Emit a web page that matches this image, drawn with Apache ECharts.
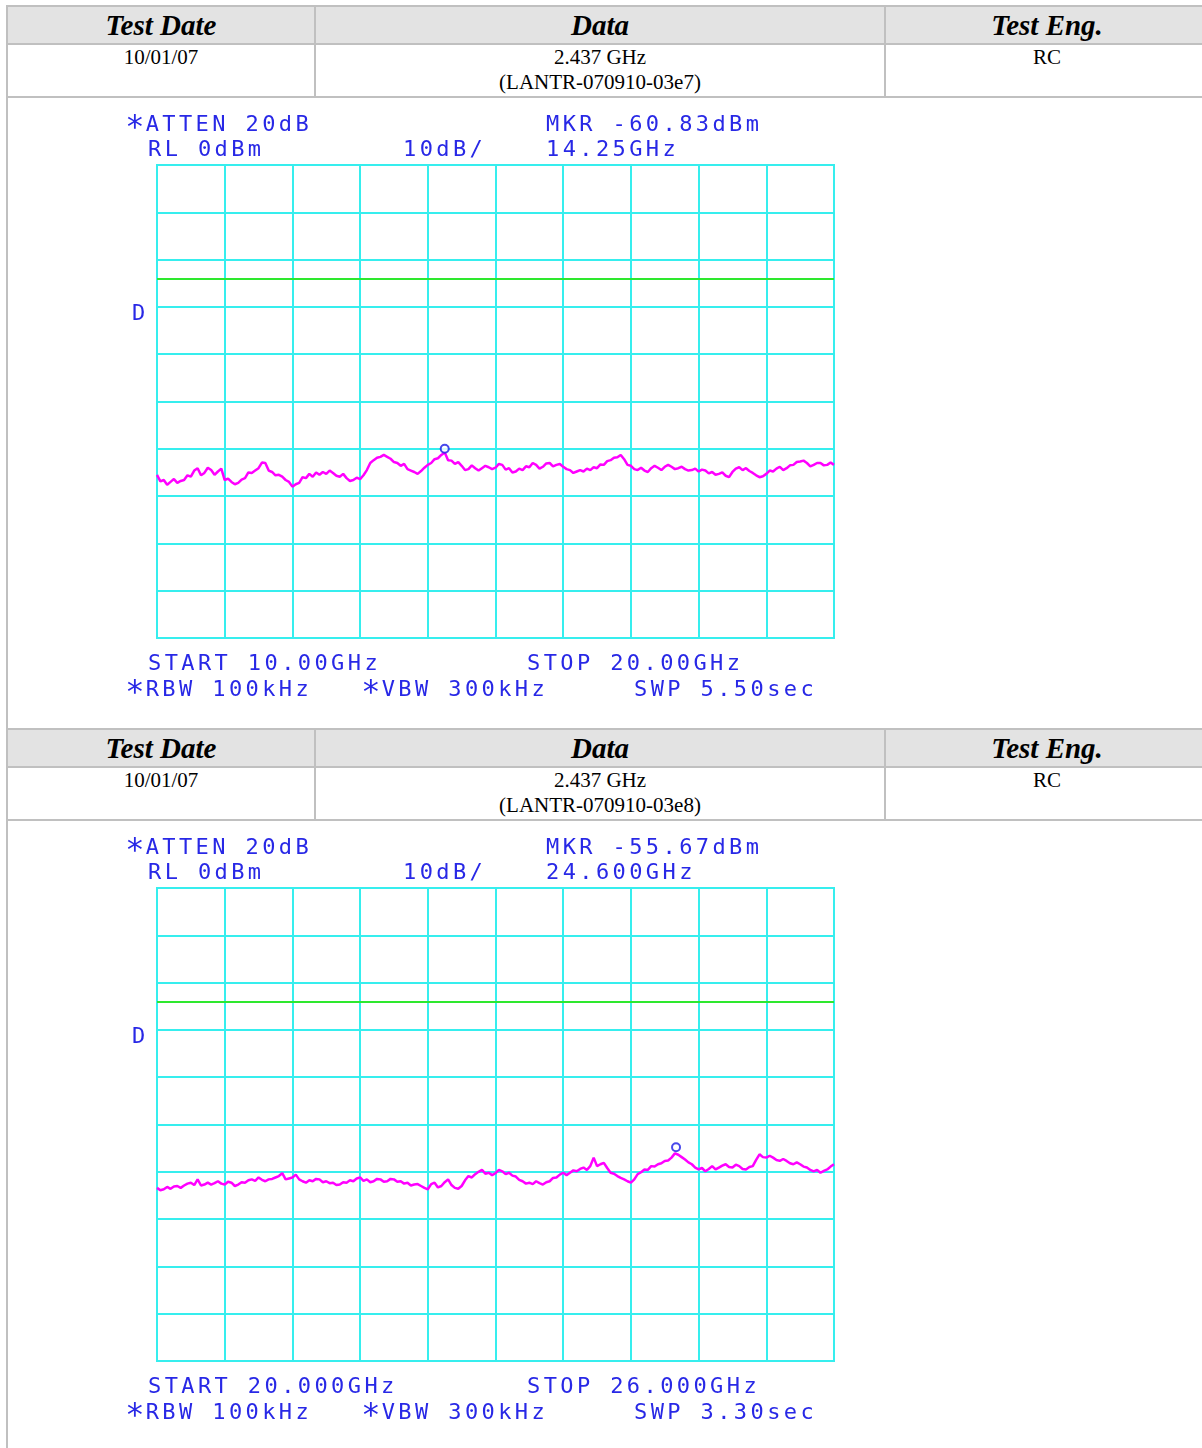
<!DOCTYPE html>
<html>
<head>
<meta charset="utf-8">
<script src="https://cdn.jsdelivr.net/npm/echarts@6/dist/echarts.min.js"></script>
<style>
html,body{margin:0;padding:0;background:#fff;}
body{width:1202px;height:1448px;overflow:hidden;position:relative;}
.ln{position:absolute;background:#c0c0c0;}
.hdr{position:absolute;background:#e3e3e3;}
.ht{position:absolute;font:italic bold 29px 'Liberation Serif';text-align:center;color:#000;line-height:36px;width:300px;}
.dt{position:absolute;font:21px 'Liberation Serif';text-align:center;line-height:25px;color:#000;width:400px;}
.it{position:absolute;font:22px 'DejaVu Sans Mono';letter-spacing:3.4px;color:#2828e6;line-height:22px;white-space:pre;z-index:5;}
.ast{display:inline-block;transform:translateY(3px) scale(1.45);}
.ch{position:absolute;left:0;width:1202px;z-index:2;}
</style>
</head>
<body>
<script>
// ---- table data ----
const headerLabels = ['Test Date', 'Data', 'Test Eng.'];
const testDates = ['10/01/07', '10/01/07'];
const dataFreq = ['2.437 GHz', '2.437 GHz'];
const dataIds = ['(LANTR-070910-03e7)', '(LANTR-070910-03e8)'];
const testEng = ['RC', 'RC'];

// ---- analyzer settings / annotations ----
const attenText = ['*ATTEN 20dB', '*ATTEN 20dB'];
const refText = ['RL 0dBm', 'RL 0dBm'];
const scaleText = ['10dB/', '10dB/'];
const mkrText = ['MKR -60.83dBm', 'MKR -55.67dBm'];
const mkrFreqText = ['14.25GHz', '24.600GHz'];
const startText = ['START 10.00GHz', 'START 20.000GHz'];
const stopText = ['STOP 20.00GHz', 'STOP 26.000GHz'];
const rbwText = ['*RBW 100kHz', '*RBW 100kHz'];
const vbwText = ['*VBW 300kHz', '*VBW 300kHz'];
const swpText = ['SWP 5.50sec', 'SWP 3.30sec'];
const detText = ['D', 'D'];

const sweepStart = [10, 20];      // GHz
const sweepStop = [20, 26];       // GHz
const refLevel = [0, 0];          // dBm
const dbPerDiv = [10, 10];
const displayLine = [-24, -24];   // dBm
const markerFreq = [14.25, 24.6]; // GHz
const markerLevel = [-60.83, -55.67]; // dBm

// ---- traces (dBm), evenly swept from start to stop ----
const trace1 = [
-65.5,-66.9,-66.6,-67.6,-67.0,-66.4,-67.2,-66.8,-66.6,-65.6,
-65.9,-64.6,-64.1,-65.6,-65.1,-64.0,-64.5,-65.5,-64.8,-64.2,
-66.6,-66.3,-67.0,-67.5,-67.2,-66.5,-66.2,-65.0,-65.1,-64.6,
-64.1,-62.9,-63.0,-64.6,-64.9,-65.6,-65.5,-65.9,-66.6,-67.0,
-68.0,-67.5,-67.2,-66.0,-66.2,-65.3,-65.9,-65.0,-65.5,-64.9,
-65.3,-64.6,-65.1,-65.7,-65.9,-65.3,-66.2,-66.8,-66.6,-66.1,
-66.4,-65.6,-64.5,-63.0,-62.4,-61.9,-61.7,-61.3,-61.7,-62.1,
-62.8,-63.0,-63.6,-63.2,-64.3,-64.6,-64.9,-65.3,-64.7,-64.0,
-63.4,-63.0,-62.2,-62.0,-61.3,-60.8,-62.4,-62.5,-63.2,-62.8,
-63.6,-64.5,-64.3,-63.5,-64.1,-64.6,-64.1,-63.6,-63.9,-64.3,
-64.0,-63.2,-63.4,-64.4,-64.1,-65.0,-64.8,-64.2,-64.5,-63.7,
-63.9,-63.0,-63.4,-64.2,-63.8,-63.1,-63.0,-63.7,-63.4,-63.2,
-63.8,-64.3,-64.5,-65.1,-64.8,-64.5,-64.8,-64.2,-64.5,-63.9,
-64.1,-63.3,-63.4,-62.6,-62.4,-61.9,-61.8,-61.3,-62.2,-63.4,
-63.6,-64.3,-64.5,-64.0,-64.6,-64.9,-64.1,-63.6,-64.0,-64.5,
-63.8,-63.4,-63.8,-64.3,-64.1,-63.8,-64.3,-64.6,-64.5,-64.2,
-64.8,-64.4,-64.6,-65.2,-64.9,-65.5,-65.3,-65.0,-65.7,-66.0,
-64.9,-64.2,-63.9,-64.5,-64.1,-64.7,-65.1,-65.6,-66.0,-65.8,
-65.3,-64.6,-64.8,-64.2,-63.8,-64.5,-64.1,-63.5,-63.4,-62.8,
-62.7,-62.5,-63.0,-63.7,-63.4,-63.0,-63.0,-63.5,-63.4,-62.9,
-63.4
];
const trace2 = [
-63.4,-63.9,-63.7,-63.2,-63.6,-63.1,-63.0,-63.4,-62.9,-62.5,
-62.3,-62.8,-61.6,-62.9,-62.7,-62.3,-62.7,-62.4,-62.0,-62.5,
-62.7,-62.1,-62.3,-63.0,-62.7,-62.2,-62.3,-61.8,-61.6,-61.9,
-61.2,-61.7,-62.0,-61.6,-61.5,-61.2,-60.9,-60.3,-61.6,-61.4,
-61.2,-60.6,-61.6,-62.0,-62.3,-61.8,-62.0,-61.5,-61.6,-62.2,
-62.0,-62.4,-62.3,-62.8,-62.7,-62.2,-62.3,-61.8,-62.0,-61.4,
-61.2,-61.9,-61.6,-62.2,-62.0,-61.5,-61.6,-62.1,-62.0,-61.5,
-61.6,-62.1,-62.0,-62.5,-62.3,-62.9,-62.7,-62.6,-63.0,-63.4,
-63.7,-62.6,-62.3,-63.3,-63.0,-62.2,-61.6,-62.8,-63.4,-63.6,
-63.0,-61.8,-60.9,-61.2,-60.5,-60.0,-59.6,-60.4,-60.2,-60.7,
-60.3,-59.6,-59.9,-60.5,-60.2,-60.8,-61.0,-61.7,-62.0,-62.5,
-62.3,-62.6,-62.0,-62.4,-62.7,-62.2,-62.0,-61.3,-61.2,-60.6,
-60.2,-60.7,-60.2,-59.7,-59.9,-59.4,-59.1,-59.6,-58.8,-57.0,
-58.8,-58.4,-58.1,-59.2,-60.2,-60.4,-60.9,-61.3,-61.6,-62.0,
-62.3,-61.6,-60.5,-60.1,-59.5,-59.6,-58.8,-58.9,-58.4,-58.2,
-57.7,-57.6,-57.0,-56.1,-56.4,-56.9,-57.4,-58.0,-58.4,-59.1,
-59.5,-59.2,-59.9,-59.4,-58.8,-59.5,-59.1,-58.7,-58.4,-59.0,
-59.1,-58.5,-58.8,-59.4,-59.5,-59.0,-58.8,-57.5,-56.3,-56.9,
-57.0,-56.6,-57.0,-57.5,-57.7,-57.3,-57.7,-58.2,-58.4,-58.0,
-58.4,-58.9,-59.1,-59.6,-59.9,-59.6,-60.2,-59.8,-59.5,-58.9,
-58.4
];
const traces = [trace1, trace2];

// ---- layout ----
const SECTION_STEP = 723;
const GRID_COLOR = '#36eeee';

function el(cls, css, html) {
  const d = document.createElement('div');
  d.className = cls;
  Object.assign(d.style, css);
  if (html !== undefined) d.innerHTML = html;
  document.body.appendChild(d);
  return d;
}
function instr(t) {
  return t.replace(/\*/g, '<span class="ast">*</span>');
}
function px(v) { return v + 'px'; }

for (let k = 0; k < 2; k++) {
  const o = k * SECTION_STEP;
  const bottom = (k === 1) ? 1448 : 729 + o;
  el('hdr', {left: px(8), top: px(7 + o), width: px(1194), height: px(36)});
  el('ln', {left: px(6), top: px(5 + o), width: px(1196), height: px(2)});
  el('ln', {left: px(6), top: px(43 + o), width: px(1196), height: px(2)});
  el('ln', {left: px(6), top: px(96 + o), width: px(1196), height: px(2)});
  el('ln', {left: px(6), top: px(5 + o), width: px(2), height: px(bottom - 5 - o)});
  el('ln', {left: px(314), top: px(5 + o), width: px(2), height: px(92)});
  el('ln', {left: px(884), top: px(5 + o), width: px(2), height: px(92)});
  const centers = [161, 600, 1047];
  headerLabels.forEach((h, i) => {
    el('ht', {left: px(centers[i] - 150), top: px(7 + o)}, h);
  });
  el('dt', {left: px(centers[0] - 200), top: px(45 + o)}, testDates[k]);
  el('dt', {left: px(centers[1] - 200), top: px(45 + o)}, dataFreq[k] + '<br>' + dataIds[k]);
  el('dt', {left: px(centers[2] - 200), top: px(45 + o)}, testEng[k]);

  const ann = [
    [attenText[k], 129, 123.5], [refText[k], 148, 149], [scaleText[k], 403, 149],
    [mkrText[k], 546, 123.5], [mkrFreqText[k], 546, 149], [detText[k], 132, 313],
    [startText[k], 148, 663], [stopText[k], 527, 663],
    [rbwText[k], 129, 689], [vbwText[k], 365, 689], [swpText[k], 634, 689]
  ];
  ann.forEach(a => {
    el('it', {left: px(a[1]), top: px(a[2] + o - 11)}, instr(a[0]));
  });

  const cTop = 97 + o;
  const cDiv = el('ch', {top: px(cTop), height: px(bottom - cTop)});
  const chart = echarts.init(cDiv, null, {renderer: 'canvas'});
  const start = sweepStart[k], stop = sweepStop[k], vals = traces[k];
  const step = (stop - start) / (vals.length - 1);
  const pts = vals.map((v, i) => [start + i * step, v]);
  const yMin = refLevel[k] - 10 * dbPerDiv[k];
  chart.setOption({
    animation: false,
    grid: {left: 157, top: 68, width: 677, height: 473, show: true,
           borderColor: GRID_COLOR, borderWidth: 2, backgroundColor: 'transparent'},
    xAxis: [
      {type: 'value', min: start, max: stop, show: false},
      {type: 'value', min: 0, max: 10, interval: 1, position: 'bottom',
       axisLine: {show: false}, axisTick: {show: false}, axisLabel: {show: false},
       splitLine: {show: true, lineStyle: {color: GRID_COLOR, width: 2}}}
    ],
    yAxis: {type: 'value', min: yMin, max: refLevel[k], interval: dbPerDiv[k],
            axisLine: {show: false}, axisTick: {show: false}, axisLabel: {show: false},
            splitLine: {show: true, lineStyle: {color: GRID_COLOR, width: 2}}},
    series: [
      {type: 'line', xAxisIndex: 0, data: pts, showSymbol: false, symbol: 'none',
       lineStyle: {color: '#ff00ff', width: 2.5}, z: 3,
       markLine: {silent: true, symbol: 'none', label: {show: false},
                  lineStyle: {color: '#2ee82e', width: 2, type: 'solid'},
                  data: [{yAxis: displayLine[k]}]}},
      {type: 'scatter', xAxisIndex: 0, data: [[markerFreq[k], markerLevel[k]]],
       symbol: 'emptyCircle', symbolSize: 8, symbolOffset: [0, -4],
       itemStyle: {color: '#1a1ae6', borderWidth: 2.5}, z: 5}
    ]
  });
}
</script>
</body>
</html>
